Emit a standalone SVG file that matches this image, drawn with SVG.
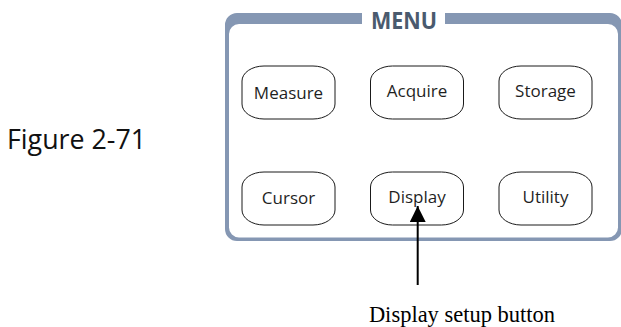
<svg xmlns="http://www.w3.org/2000/svg" width="621" height="327" viewBox="0 0 621 327">
<style>
.btn{fill:#ffffff;stroke:#1a1a1a;stroke-width:1}
.bt{font-family:"Open Sans","Noto Sans",sans-serif;font-size:17px;fill:#1f1f1f;text-anchor:middle}
.frame{fill:#8597b3;fill-rule:evenodd}
</style>
<defs>
<marker id="ah" viewBox="0 0 16 16" refX="16" refY="8" markerWidth="16" markerHeight="16" markerUnits="userSpaceOnUse" orient="auto">
<path d="M0,0 L16,8 L0,16 Z" fill="#000"/>
</marker>
</defs>
<rect width="621" height="327" fill="#fff"/>
<g id="figure-label">
<text x="7" y="149" font-family="Open Sans, Noto Sans, sans-serif" font-size="26.8" fill="#111">Figure 2-71</text>
</g>
<g id="menu-panel">
<path class="frame" d="M237,13 H610 A12,12 0 0 1 622,25 V229 A12,12 0 0 1 610,241 H237 A12,12 0 0 1 225,229 V25 A12,12 0 0 1 237,13 Z M239,24 H608 A10,10 0 0 1 618,34 V227.5 A10,10 0 0 1 608,237.5 H239 A10,10 0 0 1 229,227.5 V34 A10,10 0 0 1 239,24 Z"/>
<rect x="362" y="11" width="83" height="15" fill="#fff"/>
<text x="404" y="28.5" font-family="Open Sans, Noto Sans, sans-serif" font-weight="bold" font-size="23" fill="#4a5a6e" text-anchor="middle" textLength="66" lengthAdjust="spacingAndGlyphs">MENU</text>
</g>
<g id="btn-measure">
<rect class="btn" x="242" y="66" width="93" height="53" rx="22" ry="15"/>
<text class="bt" x="288.5" y="99">Measure</text>
</g>
<g id="btn-acquire">
<rect class="btn" x="370.5" y="66" width="93" height="53" rx="22" ry="15"/>
<text class="bt" x="417" y="97">Acquire</text>
</g>
<g id="btn-storage">
<rect class="btn" x="499" y="66" width="93" height="53" rx="22" ry="15"/>
<text class="bt" x="545.5" y="97">Storage</text>
</g>
<g id="btn-cursor">
<rect class="btn" x="242" y="172" width="93" height="53" rx="22" ry="15"/>
<text class="bt" x="288.5" y="204">Cursor</text>
</g>
<g id="btn-display">
<rect class="btn" x="370.5" y="172" width="93" height="53" rx="22" ry="15"/>
<text class="bt" x="417" y="203">Display</text>
</g>
<g id="btn-utility">
<rect class="btn" x="499" y="172" width="93" height="53" rx="22" ry="15"/>
<text class="bt" x="545.5" y="203">Utility</text>
</g>
<g id="connectors">
<line x1="417.7" y1="285" x2="417.7" y2="206" stroke="#000" stroke-width="2" marker-end="url(#ah)"/>
</g>
<g id="caption">
<text x="462" y="321.5" font-family="Liberation Serif, Times New Roman, serif" font-size="22.5" fill="#000" text-anchor="middle">Display setup button</text>
</g>
</svg>
